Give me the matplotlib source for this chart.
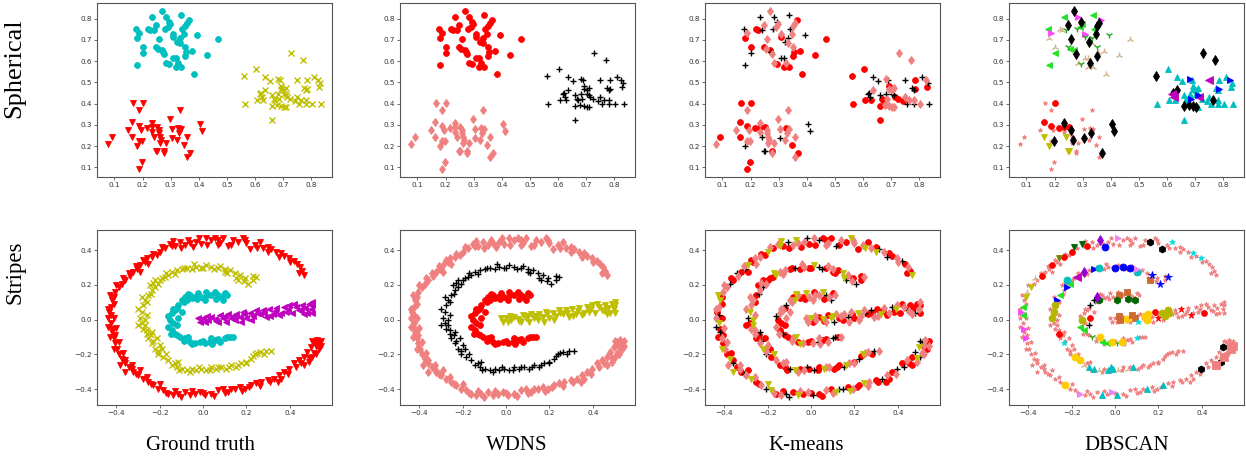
import numpy as np
import matplotlib
matplotlib.use("Agg")
import matplotlib.pyplot as plt

# ---------------- Spherical data (three blobs) ----------------
sph_a_x = [0.233,0.269,0.284,0.338,0.364,0.358,0.352,0.340,0.295,0.298,0.290,0.281,0.176,0.189,0.219,0.227,0.239,0.249,0.307,0.310,0.346,0.332,0.394,0.467,0.180,0.260,0.203,0.249,0.255,0.269,0.272,0.278,0.322,0.334,0.352,0.376,0.356,0.352,0.203,0.284,0.293,0.310,0.320,0.325,0.320,0.338,0.429,0.384,0.180]
sph_a_y = [0.809,0.836,0.809,0.817,0.794,0.781,0.766,0.753,0.786,0.774,0.758,0.750,0.750,0.730,0.749,0.746,0.746,0.769,0.727,0.714,0.727,0.708,0.722,0.702,0.707,0.704,0.665,0.665,0.657,0.654,0.641,0.634,0.688,0.683,0.665,0.646,0.641,0.626,0.637,0.592,0.587,0.615,0.615,0.590,0.571,0.571,0.630,0.537,0.582]
sph_b_x = [0.165,0.201,0.186,0.332,0.164,0.150,0.189,0.195,0.233,0.233,0.253,0.257,0.233,0.257,0.239,0.263,0.265,0.298,0.304,0.325,0.328,0.358,0.405,0.411,0.304,0.284,0.322,0.346,0.370,0.358,0.076,0.090,0.162,0.186,0.197,0.180,0.249,0.253,0.277,0.277,0.197,0.188,0.215,0.263,0.337]
sph_b_y = [0.403,0.403,0.372,0.369,0.315,0.276,0.294,0.276,0.307,0.291,0.288,0.276,0.268,0.260,0.245,0.245,0.229,0.327,0.279,0.284,0.260,0.245,0.304,0.273,0.237,0.217,0.229,0.203,0.170,0.148,0.209,0.245,0.245,0.226,0.226,0.201,0.179,0.179,0.175,0.167,0.125,0.092,0.287,0.214,0.279]
sph_c_x = [0.729,0.771,0.602,0.637,0.810,0.750,0.786,0.681,0.688,0.655,0.709,0.691,0.637,0.622,0.619,0.625,0.629,0.607,0.661,0.669,0.673,0.685,0.703,0.703,0.693,0.681,0.661,0.679,0.693,0.709,0.726,0.714,0.712,0.744,0.750,0.764,0.780,0.786,0.783,0.774,0.824,0.833,0.827,0.756,0.783,0.804,0.836,0.566,0.560,0.661,0.703]
sph_c_y = [0.638,0.606,0.564,0.525,0.525,0.509,0.509,0.517,0.509,0.506,0.475,0.481,0.462,0.450,0.444,0.431,0.419,0.416,0.439,0.424,0.416,0.424,0.444,0.466,0.470,0.447,0.388,0.392,0.388,0.385,0.424,0.431,0.439,0.413,0.431,0.419,0.419,0.470,0.462,0.475,0.512,0.497,0.478,0.400,0.400,0.400,0.400,0.400,0.528,0.322,0.382]

# cluster ids per method (spherical)
sph_a_km = [1,2,1,1,0,2,2,1,1,2, 2,1,1,2,0,0,1,2,2,0, 2,1,1,0,0,2,0,0,2,0, 1,2,1,2,2,0,0,0,1,2, 0,1,1,2,0,0,0,0,1]
sph_b_km = [0,0,2,2,0,2,0,2,2,0, 0,2,2,2,1,2,2,2,2,0, 2,2,1,1,1,2,2,0,0,2, 2,0,0,2,2,1,1,1,0,2, 0,0,0,2,2]
sph_c_km = [2,2,0,1,1,1,0,2,1,1, 2,0,2,1,1,1,0,0,1,0, 0,2,1,2,2,1,0,2,2,2, 0,0,1,0,2,2,2,0,1,1, 2,1,0,1,1,2,1,0,0,0, 2]
sph_a_db = [5,9,6,5,6,9,9,5,9,5, 5,8,5,6,7,7,8,9,6,8, 9,8,8,7,7,9,7,8,5,5, 7,9,9,7,8,7,7,9,5,7, 8,7,7,9,7,7,7,7,5]
sph_b_db = [-1,0,-1,-1,0,-1,0,-1,9,0, 0,9,-1,-1,3,-1,9,-1,-1,-1, 9,-1,9,9,9,-1,-1,-1,9,-1, -1,-1,3,-1,9,3,3,3,-1,-1, -1,-1,0,-1,-1]
sph_c_db = [9,9,4,4,4,10,4,11,4,4, 4,4,9,9,10,10,4,4,4,4, 4,11,4,4,4,4,9,9,9,4, 4,10,11,4,4,9,4,11,4,4, 11,4,4,4,4,4,4,4,9,4, 9]

# ---------------- Stripes data ----------------
outer_x = [0.466,0.458,0.447,0.435,0.420,0.397,0.374,0.359,0.336,0.313,0.298,0.275,0.260,0.237,0.214,0.183,0.160,0.137,0.115,0.092,0.069,0.053,0.038,0.015,-0.008,-0.031,-0.046,-0.069,-0.084,-0.107,-0.130,-0.153,-0.176,-0.198,-0.214,-0.237,-0.260,-0.275,-0.290,-0.305,-0.321,-0.336,-0.359,-0.374,-0.389,-0.405,-0.412,-0.420,-0.427,-0.435,-0.438,-0.427,-0.420,-0.420,-0.412,-0.405,-0.397,-0.389,-0.374,-0.359,-0.344,-0.321,-0.298,-0.275,-0.252,-0.229,-0.206,-0.183,-0.160,-0.137,-0.115,-0.084,-0.061,-0.038,-0.015,0.008,0.038,0.069,0.092,0.115,0.145,0.168,0.191,0.221,0.244,0.267,0.298,0.328,0.351,0.374,0.397,0.420,0.443,0.466,0.481,0.496,0.519,0.534,0.527,0.511,0.534,0.504,0.489,0.466,0.344,-0.328,-0.359,-0.382,-0.405,-0.423,-0.290,-0.252,-0.145,0.069,0.191]
outer_y = [0.256,0.279,0.304,0.323,0.337,0.352,0.367,0.381,0.390,0.406,0.390,0.410,0.448,0.429,0.406,0.467,0.448,0.458,0.425,0.467,0.429,0.467,0.458,0.467,0.438,0.448,0.419,0.458,0.429,0.444,0.425,0.438,0.410,0.390,0.371,0.362,0.352,0.342,0.314,0.294,0.275,0.252,0.227,0.208,0.189,0.160,0.131,0.112,0.074,0.045,0.007,-0.022,-0.051,-0.070,-0.108,-0.137,-0.166,-0.195,-0.224,-0.252,-0.271,-0.300,-0.319,-0.342,-0.358,-0.377,-0.396,-0.406,-0.425,-0.435,-0.425,-0.415,-0.435,-0.425,-0.415,-0.435,-0.425,-0.406,-0.396,-0.415,-0.396,-0.387,-0.396,-0.377,-0.367,-0.358,-0.348,-0.339,-0.319,-0.300,-0.281,-0.252,-0.233,-0.214,-0.185,-0.156,-0.147,-0.137,-0.118,-0.128,-0.166,-0.214,-0.243,-0.262,-0.358,-0.281,-0.300,-0.262,-0.089,0.026,0.275,0.323,0.425,0.458,0.458]
outer2_x = [0.44,0.40,0.35,0.30,0.25,0.20,0.13,0.08,0.02,-0.02,-0.06,-0.10,-0.14,-0.19,-0.23,-0.27,-0.31,-0.34,-0.37,-0.40,-0.43,-0.41,-0.44,-0.41,-0.44,-0.40,-0.43,-0.39,-0.41,-0.37,-0.36,-0.33,-0.31,-0.29,-0.26,-0.24,-0.20,-0.17,-0.13,-0.10,-0.05,0.00,0.05,0.10,0.13,0.18,0.21,0.26,0.31,0.36,0.39,0.43,0.45,0.49,0.51,0.52,0.545,0.50,0.545,0.52]
outer2_y = [0.27,0.33,0.36,0.42,0.41,0.44,0.43,0.44,0.43,0.47,0.44,0.41,0.45,0.42,0.38,0.33,0.31,0.27,0.24,0.20,0.14,0.09,0.06,0.01,-0.04,-0.05,-0.10,-0.13,-0.17,-0.19,-0.23,-0.26,-0.31,-0.29,-0.33,-0.37,-0.37,-0.42,-0.41,-0.445,-0.41,-0.42,-0.44,-0.42,-0.40,-0.41,-0.39,-0.38,-0.36,-0.34,-0.31,-0.27,-0.25,-0.22,-0.19,-0.15,-0.15,-0.12,-0.12,-0.20]
mid_x = [0.244,0.229,0.206,0.191,0.168,0.145,0.122,0.099,0.069,0.038,0.015,-0.008,-0.031,-0.053,-0.076,-0.099,-0.122,-0.145,-0.160,-0.176,-0.191,-0.206,-0.221,-0.237,-0.252,-0.267,-0.275,-0.282,-0.290,-0.282,-0.275,-0.260,-0.252,-0.237,-0.221,-0.206,-0.183,-0.160,-0.145,-0.122,-0.099,-0.076,-0.053,-0.031,-0.008,0.015,0.038,0.061,0.084,0.107,0.130,0.153,0.176,0.198,0.221,0.237,0.260,0.282,0.313,-0.244,-0.260,-0.267,-0.237,-0.214,-0.198,-0.115,-0.221,0.160,0.099]
mid_y = [0.247,0.227,0.208,0.237,0.256,0.266,0.285,0.294,0.298,0.304,0.314,0.298,0.304,0.294,0.298,0.291,0.285,0.275,0.256,0.247,0.237,0.208,0.189,0.170,0.141,0.112,0.083,0.045,0.007,-0.022,-0.051,-0.080,-0.108,-0.137,-0.166,-0.195,-0.214,-0.233,-0.262,-0.271,-0.281,-0.291,-0.281,-0.291,-0.281,-0.291,-0.271,-0.281,-0.271,-0.281,-0.262,-0.271,-0.252,-0.243,-0.224,-0.195,-0.185,-0.195,-0.181,0.199,0.026,-0.032,-0.070,-0.108,-0.147,-0.243,0.227,0.227,0.275]
mid2_x = [0.23,0.19,0.15,0.11,0.08,0.05,0.00,-0.04,-0.09,-0.13,-0.17,-0.20,-0.23,-0.24,-0.28,-0.26,-0.30,-0.27,-0.30,-0.26,-0.24,-0.23,-0.21,-0.19,-0.17,-0.13,-0.11,-0.06,-0.02,0.03,0.07,0.12,0.16,0.20,0.23,0.25,0.29]
mid2_y = [0.25,0.22,0.24,0.27,0.31,0.29,0.30,0.32,0.30,0.26,0.27,0.23,0.21,0.15,0.13,0.10,0.06,0.00,-0.03,-0.06,-0.09,-0.12,-0.18,-0.17,-0.20,-0.25,-0.29,-0.30,-0.27,-0.29,-0.27,-0.27,-0.26,-0.25,-0.21,-0.19,-0.18]
inner_x = [0.099,0.084,0.069,0.053,0.038,0.015,-0.008,-0.023,-0.038,-0.061,-0.084,-0.099,-0.115,-0.130,-0.145,-0.153,-0.160,-0.145,-0.130,-0.107,-0.084,-0.061,-0.038,-0.015,0.008,0.031,0.053,0.076,0.099,0.122,-0.076,-0.053,-0.099,-0.115,-0.122,-0.069,0.038,0.008,0.092]
inner_y = [0.151,0.131,0.141,0.160,0.141,0.160,0.131,0.151,0.131,0.141,0.131,0.112,0.083,0.055,0.036,-0.003,-0.041,-0.060,-0.080,-0.099,-0.108,-0.128,-0.137,-0.128,-0.137,-0.128,-0.118,-0.128,-0.108,-0.099,0.112,0.122,0.045,0.007,-0.032,-0.099,-0.108,0.112,0.112]
inner2_x = [0.11,0.06,0.02,-0.03,-0.07,-0.09,-0.12,-0.14,-0.16,-0.14,-0.15,-0.12,-0.09,-0.05,0.00,0.04,0.07,0.11,0.14]
inner2_y = [0.14,0.12,0.14,0.12,0.15,0.10,0.07,0.06,0.02,-0.02,-0.08,-0.09,-0.12,-0.14,-0.12,-0.14,-0.11,-0.10,-0.10]
bar_x = [-0.023,-0.015,0.000,0.008,0.023,0.038,0.053,0.069,0.076,0.092,0.107,0.115,0.130,0.145,0.153,0.168,0.183,0.198,0.214,0.229,0.244,0.260,0.275,0.290,0.305,0.321,0.336,0.351,0.374,0.382,0.397,0.412,0.427,0.443,0.458,0.466,0.489,0.496,0.504,0.504,0.176]
bar_y = [0.007,-0.012,0.011,-0.012,-0.003,0.016,0.003,-0.012,0.026,0.007,-0.012,0.030,0.011,-0.003,0.035,0.016,0.045,0.007,0.041,0.022,0.055,0.030,0.055,0.016,0.064,0.035,0.068,0.026,0.074,0.045,0.083,0.041,0.074,0.055,0.083,0.035,0.093,0.064,0.041,0.083,-0.012]
bar2_x = [0.02,0.06,0.10,0.14,0.19,0.22,0.25,0.28,0.31,0.33,0.36,0.39,0.42,0.45,0.47,0.50,0.48]
bar2_y = [0.02,-0.01,0.02,0.02,0.03,0.00,0.04,0.04,0.02,0.05,0.04,0.06,0.09,0.05,0.07,0.10,0.04]

outer_km = [3,0,2,0,1,2,0,0,2,1, 3,2,0,2,0,3,0,2,1,0, 2,0,1,2,0,2,0,3,2,1, 0,2,0,3,0,2,2,0,3,1, 0,2,0,1,2,2,0,3,2,0, 2,3,0,1,2,0,2,0,3,1, 0,0,2,3,0,2,1,3,0,2, 1,0,3,0,2,1,0,2,0,3, 1,0,2,0,3,2,0,1,2,0, 1,0,2,0,1,3,2,0,2,1, 0,1,2,0,0,2,3,2,0,1, 0,2,3,0,2]
outer2_km = [0,2,1,0,3,2,0,2,0,1, 2,0,3,2,0,0,2,1,0,2, 3,0,2,0,1,2,0,2,3,0, 0,2,1,0,2,0,3,2,0,1, 2,0,0,2,1,3,0,2,0,0, 2,1,0,3,2,0,2,1,0,2]
mid_km = [2,0,1,0,2,3,0,2,0,1, 3,0,2,0,1,0,2,2,3,0, 0,2,1,2,0,2,2,3,1,0, 2,2,0,2,3,1,0,2,0,0, 1,3,0,2,0,1,0,3,2,0, 0,1,2,0,1,3,2,0,2,0, 2,3,1,0,2,2,0,1,0]
mid2_km = [0,2,3,0,2,1,0,2,0,2, 3,0,2,1,2,0,2,3,0,2, 0,1,2,0,3,2,0,2,1,0, 2,0,3,2,0,2,1]
inner_km = [0,2,1,3,2,0,2,3,0,2, 0,2,1,2,2,0,2,0,1,0, 2,0,2,0,2,1,0,2,1,0, 3,0,2,2,0,3,2,2,1]
inner2_km = [2,0,2,0,3,2,0,2,1,0, 2,0,2,3,0,2,0,1,2]
bar_km = [2,2,3,0,2,0,3,2,0,3, 1,2,0,0,2,1,2,0,3,2, 2,0,1,2,0,3,2,0,1,0, 2,0,2,1,0,2,0,2,0,0, 2]
bar2_km = [2,0,3,2,0,2,1,0,2,0, 2,3,0,2,0,2,1]

outer_db = [-1,-1,-1,-1,-1,18,-1,18,-1,-1, -1,-1,18,-1,19,-1,19,-1,-1,-1, -1,-1,-1,23,-1,-1,22,21,-1,-1,
            0,20,-1,0,-1,0,26,-1,0,-1, -1,0,-1,-1,3,7,3,-1,5,6, -1,-1,6,-1,6,-1,-1,-1,-1,-1,
            -1,-1,-1,-1,-1,12,-1,-1,23,-1, -1,-1,4,-1,23,4,-1,-1,-1,-1, 4,-1,-1,4,-1,-1,-1,-1,-1,-1,
            19,-1,-1,-1,-1,19,-1,-1,-1,-1, 25,25,19,25,-1,-1,-1,-1,-1,5, -1,-1,-1,-1,-1]
outer2_db = [-1,-1,-1,-1,-1,-1,-1,-1,-1,-1, -1,-1,-1,20,-1,-1,-1,-1,7,-1, -1,-1,-1,-1,-1,-1,-1,-1,-1,-1,
             -1,-1,-1,-1,-1,-1,-1,-1,-1,-1, -1,-1,-1,-1,-1,-1,-1,-1,-1,-1, -1,-1,-1,-1,-1,-1,25,-1,-1,-1]
mid_db = [16,-1,16,-1,16,-1,-1,23,22,22, -1,-1,-1,-1,17,11,-1,21,-1,10, -1,5,11,-1,5,11,15,15,15,-1,
          -1,0,-1,18,-1,-1,12,12,7,4, 4,7,-1,4,4,7,-1,7,4,-1, -1,-1,-1,-1,-1,-1,-1,-1,-1,-1,
          -1,-1,-1,-1,-1,-1,17,13,17]
mid2_db = [-1,-1,-1,-1,-1,-1,22,-1,-1,-1, -1,-1,-1,-1,-1,-1,-1,-1,-1,-1, -1,-1,-1,-1,-1,-1,-1,-1,4,-1,
           -1,-1,-1,-1,-1,-1,-1]
inner_db = [-1,-1,-1,13,-1,-1,-1,-1,-1,-1, 21,1,1,-1,-1,15,5,5,-1,8, -1,5,5,12,8,12,-1,-1,18,-1,
            14,-1,-1,0,1,12,-1,14,14]
inner2_db = [-1,14,13,-1,-1,-1,-1,-1,-1,-1, -1,-1,-1,-1,-1,-1,-1,-1,-1]
bar_db = [-1,-1,-1,-1,13,-1,12,-1,13,13, 18,-1,-1,12,12,-1,0,24,15,15, 15,-1,-1,-1,24,-1,-1,24,-1,-1,
          -1,0,-1,-1,-1,-1,-1,-1,-1,-1, -1]
bar2_db = [13,-1,-1,12,-1,-1,15,-1,-1,-1, -1,-1,-1,-1,-1,-1,-1]

row_names = ["Spherical", "Stripes"]
col_names = ["Ground truth", "WDNS", "K-means", "DBSCAN"]

# ---------------- marker styles per cluster id ----------------
STYLES = {
    -1: ('*', '#f08080', 3.3),
    0: ('o', '#ff0000', 4.2),
    1: ('+', '#000000', 5.0),
    2: ('d', '#f08080', 4.4),
    3: ('v', '#bfbf00', 4.5),
    4: ('^', '#00bfbf', 5.0),
    5: ('<', '#22e022', 4.6),
    6: ('>', '#ff44ff', 4.6),
    7: ('2', '#d2b48c', 5.0),
    8: ('1', '#22aa22', 5.0),
    9: ('d', '#000000', 5.2),
    10: ('<', '#bf00bf', 6.0),
    11: ('>', '#0000ff', 5.0),
    12: ('o', '#ffcc00', 5.0),
    13: ('s', '#cd6a30', 4.6),
    14: ('h', '#006400', 5.0),
    15: ('o', '#b5b500', 5.0),
    16: ('*', '#0000ff', 5.5),
    17: ('o', '#00bfbf', 5.0),
    18: ('*', '#00dddd', 4.0),
    19: ('h', '#000000', 5.0),
    20: ('v', '#006400', 5.0),
    21: ('d', '#9400d3', 5.0),
    22: ('o', '#0000ff', 5.0),
    23: ('>', '#ee82ee', 4.6),
    24: ('*', '#ff0000', 4.5),
    25: ('s', '#f08080', 5.5),
    26: ('v', '#808000', 5.0),
    30: ('o', '#00bfbf', 4.2),
    31: ('v', '#ff0000', 4.5),
    32: ('x', '#bfbf00', 4.0),
    33: ('<', '#bf00bf', 4.5),
}

sph_x = np.array(sph_a_x + sph_b_x + sph_c_x)
sph_y = np.array(sph_a_y + sph_b_y + sph_c_y)
na, nb, nc = len(sph_a_x), len(sph_b_x), len(sph_c_x)
sph_labels = [
    np.array([30]*na + [31]*nb + [32]*nc),
    np.array([0]*na + [2]*nb + [1]*nc),
    np.array(sph_a_km + sph_b_km + sph_c_km),
    np.array(sph_a_db + sph_b_db + sph_c_db),
]

str_x = np.array(outer_x + outer2_x + mid_x + mid2_x + inner_x + inner2_x + bar_x + bar2_x)
str_y = np.array(outer_y + outer2_y + mid_y + mid2_y + inner_y + inner2_y + bar_y + bar2_y)
no = len(outer_x) + len(outer2_x)
nm = len(mid_x) + len(mid2_x)
ni = len(inner_x) + len(inner2_x)
nr = len(bar_x) + len(bar2_x)
str_labels = [
    np.array([31]*no + [32]*nm + [30]*ni + [33]*nr),
    np.array([2]*no + [1]*nm + [0]*ni + [3]*nr),
    np.array(outer_km + outer2_km + mid_km + mid2_km + inner_km + inner2_km + bar_km + bar2_km),
    np.array(outer_db + outer2_db + mid_db + mid2_db + inner_db + inner2_db + bar_db + bar2_db),
]

W, H = 1246, 461
fig = plt.figure(figsize=(W/100, H/100), dpi=100)

col_left = [97, 400, 705, 1009]
col_w = 235
rows = [(3, 177), (230, 405)]
datasets = [(sph_x, sph_y, sph_labels), (str_x, str_y, str_labels)]
ticks = [([0.1,0.2,0.3,0.4,0.5,0.6,0.7,0.8], [0.1,0.2,0.3,0.4,0.5,0.6,0.7,0.8]),
         ([-0.4,-0.2,0.0,0.2,0.4], [-0.4,-0.2,0.0,0.2,0.4])]

for r, (top, bot) in enumerate(rows):
    X, Y, labs = datasets[r]
    for c in range(4):
        ax = fig.add_axes([col_left[c]/W, 1-bot/H, col_w/W, (bot-top)/H])
        lab = labs[c]
        for k in sorted(set(lab.tolist())):
            m = lab == k
            mk, col, ms = STYLES[k]
            mew = 1.0 if mk in ('+', 'x', '1', '2') else 0.6
            ax.plot(X[m], Y[m], linestyle='none', marker=mk, color=col, ms=ms,
                    mew=mew, mec=col)
        ax.set_xticks(ticks[r][0])
        ax.set_yticks(ticks[r][1])
        ax.tick_params(labelsize=5.2, length=2, width=0.6, pad=1.5,
                       colors='#555555', labelcolor='#333333')
        for s in ax.spines.values():
            s.set_linewidth(0.8)
            s.set_color('#555555')

serif = ['Liberation Serif', 'DejaVu Serif']
fig.text(14/W, 1-68/H, row_names[0], rotation=90, fontsize=19, family=serif,
         ha='center', va='center')
fig.text(15/W, 1-272/H, row_names[1], rotation=90, fontsize=16.5, family=serif,
         ha='center', va='center')
title_x = [200, 517, 806, 1127]
for c in range(4):
    fig.text(title_x[c]/W, 1-445/H, col_names[c], fontsize=15, family=serif,
             ha='center', va='center')

fig.savefig("out.png", dpi=100)
